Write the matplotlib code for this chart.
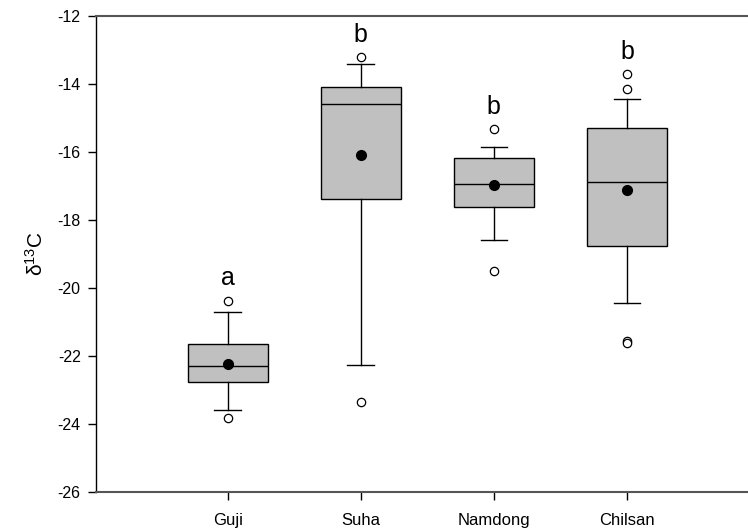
import numpy as np
import matplotlib.pyplot as plt

plt.rcParams['font.family'] = ['Liberation Sans', 'DejaVu Sans']
plt.rcParams['mathtext.default'] = 'regular'
plt.rcParams['axes.unicode_minus'] = False

# per-site box statistics for d13C
sites = ['Guji', 'Suha', 'Namdong', 'Chilsan']
q1 = [-22.77, -17.38, -17.63, -18.76]
median = [-22.28, -14.59, -16.93, -16.88]
q3 = [-21.64, -14.08, -16.19, -15.30]
whisker_lo = [-23.59, -22.25, -18.59, -20.43]
whisker_hi = [-20.72, -13.41, -15.84, -14.44]
means = [-22.23, -16.08, -16.96, -17.13]
outliers = [[-20.37, -23.83],
            [-13.22, -23.36],
            [-15.32, -19.50],
            [-13.72, -14.15, -21.55, -21.62]]
letters = ['a', 'b', 'b', 'b']

stats = []
for i, name in enumerate(sites):
    stats.append(dict(label=name, q1=q1[i], med=median[i], q3=q3[i],
                      whislo=whisker_lo[i], whishi=whisker_hi[i],
                      mean=means[i], fliers=np.array(outliers[i])))

fig = plt.figure(figsize=(7.48, 5.30), dpi=100)
ax = fig.add_axes([96 / 748, 38 / 530, 652 / 748, 476 / 530])

pos = np.arange(1, len(sites) + 1)
ax.bxp(stats, positions=pos, widths=0.6, capwidths=0.2, showmeans=True,
       patch_artist=True,
       boxprops=dict(facecolor='#c0c0c0', edgecolor='black', linewidth=1),
       medianprops=dict(color='black', linewidth=1),
       whiskerprops=dict(color='black', linewidth=1),
       capprops=dict(color='black', linewidth=1),
       meanprops=dict(marker='o', markerfacecolor='black',
                      markeredgecolor='black', markersize=7),
       flierprops=dict(marker='o', markerfacecolor='white',
                       markeredgecolor='black', markersize=6,
                       markeredgewidth=0.9))

# significance letters above the highest point of each group
for p, lab, fl in zip(pos, letters, outliers):
    ax.text(p, max(fl) + 0.3, lab, ha='center', va='bottom', fontsize=18)

ax.set_xlim(0.01, 4.91)
ax.set_ylim(-26, -12)
ax.set_yticks(np.arange(-26, -11, 2))
ax.set_xticks(pos)
ax.set_xticklabels(sites)
ax.tick_params(axis='both', direction='out', length=6, width=1, pad=5)
ax.tick_params(axis='y', labelsize=11.5)
ax.tick_params(axis='x', labelsize=12, pad=9)
ax.set_ylabel('δ$^{13}$C', fontsize=15, labelpad=8)

ax.spines['right'].set_visible(False)
for s in ['top', 'bottom']:
    ax.spines[s].set_color('#555555')
    ax.spines[s].set_linewidth(1.5)
ax.spines['left'].set_linewidth(1)

fig.savefig('out.png', dpi=100)
